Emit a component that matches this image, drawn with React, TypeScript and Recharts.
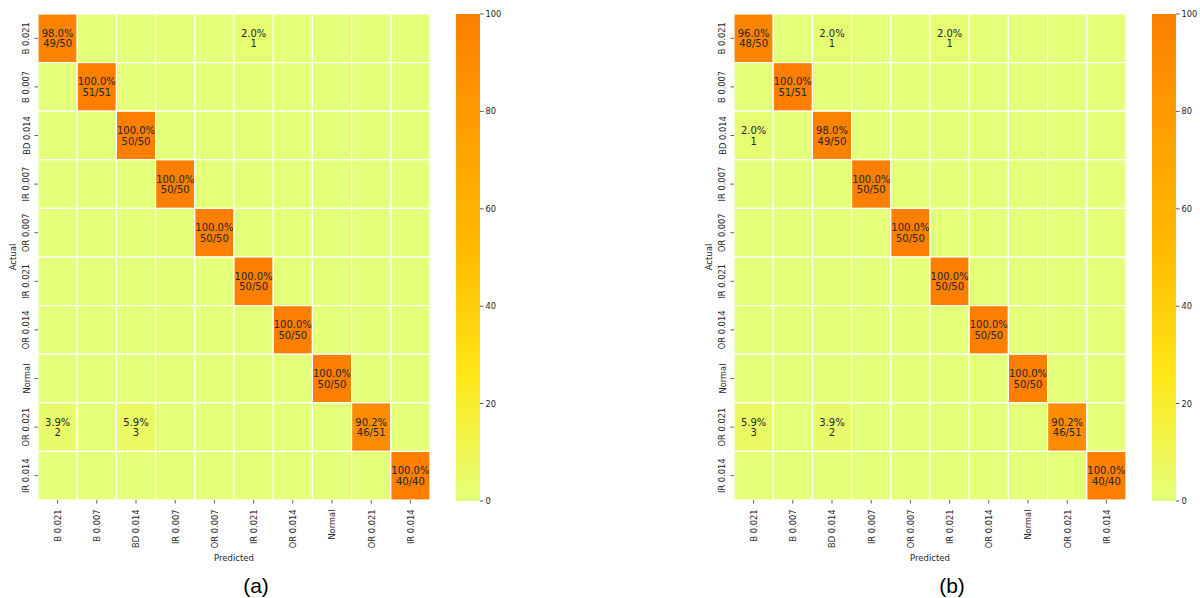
import React from 'react';
import { ScatterChart, Scatter, XAxis, YAxis, BarChart, Bar, Label } from 'recharts';

const CATEGORIES = ['B 0.021', 'B 0.007', 'BD 0.014', 'IR 0.007', 'OR 0.007', 'IR 0.021', 'OR 0.014', 'Normal', 'OR 0.021', 'IR 0.014'];
const ROW_TOTALS = [50, 51, 50, 50, 50, 50, 50, 50, 51, 40];
const COUNTS_A = [
  [49, 0, 0, 0, 0, 1, 0, 0, 0, 0],
  [0, 51, 0, 0, 0, 0, 0, 0, 0, 0],
  [0, 0, 50, 0, 0, 0, 0, 0, 0, 0],
  [0, 0, 0, 50, 0, 0, 0, 0, 0, 0],
  [0, 0, 0, 0, 50, 0, 0, 0, 0, 0],
  [0, 0, 0, 0, 0, 50, 0, 0, 0, 0],
  [0, 0, 0, 0, 0, 0, 50, 0, 0, 0],
  [0, 0, 0, 0, 0, 0, 0, 50, 0, 0],
  [2, 0, 3, 0, 0, 0, 0, 0, 46, 0],
  [0, 0, 0, 0, 0, 0, 0, 0, 0, 40],
];
const COUNTS_B = [
  [48, 0, 1, 0, 0, 1, 0, 0, 0, 0],
  [0, 51, 0, 0, 0, 0, 0, 0, 0, 0],
  [1, 0, 49, 0, 0, 0, 0, 0, 0, 0],
  [0, 0, 0, 50, 0, 0, 0, 0, 0, 0],
  [0, 0, 0, 0, 50, 0, 0, 0, 0, 0],
  [0, 0, 0, 0, 0, 50, 0, 0, 0, 0],
  [0, 0, 0, 0, 0, 0, 50, 0, 0, 0],
  [0, 0, 0, 0, 0, 0, 0, 50, 0, 0],
  [3, 0, 2, 0, 0, 0, 0, 0, 46, 0],
  [0, 0, 0, 0, 0, 0, 0, 0, 0, 40],
];
const COLORBAR_TICKS = [0, 20, 40, 60, 80, 100];
const WISTIA = [
  [228, 255, 122],
  [255, 232, 26],
  [255, 189, 0],
  [255, 160, 0],
  [252, 127, 0],
];

const FONT = '"DejaVu Sans", sans-serif';
const TEXT_COLOR = '#262626';
const N = CATEGORIES.length;
const CHART_W = 440;
const CHART_H = 570;
const MARGIN = { top: 14, right: 10, bottom: 0, left: 0 };
const Y_AXIS_W = 38;
const X_AXIS_H = 70;
const PLOT_W = CHART_W - MARGIN.left - MARGIN.right - Y_AXIS_W;
const PLOT_H = CHART_H - MARGIN.top - MARGIN.bottom - X_AXIS_H;
const CELL_W = PLOT_W / N;
const CELL_H = PLOT_H / N;

function wistia(v: number): string {
  const t = Math.max(0, Math.min(1, v / 100)) * (WISTIA.length - 1);
  const i = Math.min(WISTIA.length - 2, Math.floor(t));
  const f = t - i;
  const c = WISTIA[i].map((a, k) => Math.round(a + (WISTIA[i + 1][k] - a) * f));
  return `rgb(${c[0]},${c[1]},${c[2]})`;
}

function buildCells(counts: number[][]) {
  const cells: any[] = [];
  counts.forEach((row, r) => {
    row.forEach((n, c) => {
      const pct = (n / ROW_TOTALS[r]) * 100;
      cells.push({ x: c, y: r, n, total: ROW_TOTALS[r], pct, diag: r === c });
    });
  });
  return cells;
}

const CellShape = (props: any) => {
  const { cx, cy, payload } = props;
  const fill = wistia(payload.pct);
  const line1 = payload.n > 0 ? `${payload.pct.toFixed(1)}%` : '';
  const line2 = payload.n > 0 ? (payload.diag ? `${payload.n}/${payload.total}` : `${payload.n}`) : '';
  return (
    <g>
      <rect x={cx - CELL_W / 2} y={cy - CELL_H / 2} width={CELL_W} height={CELL_H} fill={fill} stroke="#ffffff" strokeWidth={1.2} />
      {payload.n > 0 && (
        <text x={cx} y={cy} textAnchor="middle" fontFamily={FONT} fontSize={10} fill={TEXT_COLOR}>
          <tspan x={cx} y={cy - 5} dominantBaseline="central">{line1}</tspan>
          <tspan x={cx} y={cy + 5.5} dominantBaseline="central">{line2}</tspan>
        </text>
      )}
    </g>
  );
};

const XTick = (props: any) => {
  const { x, y, payload } = props;
  const tx = x + 3.3;
  return (
    <text x={tx} y={y} transform={`rotate(-90 ${tx} ${y})`} textAnchor="end" fontFamily={FONT} fontSize={8.3} fill={TEXT_COLOR}>
      {CATEGORIES[payload.value]}
    </text>
  );
};

const YTick = (props: any) => {
  const { x, y, payload } = props;
  return (
    <text x={x} y={y} transform={`rotate(-90 ${x} ${y})`} textAnchor="middle" fontFamily={FONT} fontSize={8.3} fill={TEXT_COLOR}>
      {CATEGORIES[payload.value]}
    </text>
  );
};

const INDEX_TICKS = CATEGORIES.map((_, i) => i);

function Matrix({ counts, left, caption, gradId }: { counts: number[][]; left: number; caption: string; gradId: string }) {
  const data = buildCells(counts);
  return (
    <div style={{ position: 'absolute', left, top: 0, width: 520, height: 598 }}>
      <div style={{ position: 'absolute', left: 0, top: 0 }}>
        <ScatterChart width={CHART_W} height={CHART_H} margin={MARGIN}>
          <XAxis
            type="number"
            dataKey="x"
            domain={[-0.5, N - 0.5]}
            ticks={INDEX_TICKS}
            interval={0}
            height={X_AXIS_H}
            axisLine={false}
            tickLine={{ stroke: '#333', strokeWidth: 0.8 }}
            tickSize={3.5}
            tickMargin={6}
            tick={<XTick />}
            allowDataOverflow
          >
            <Label
              content={() => (
                <text x={Y_AXIS_W + PLOT_W / 2} y={558} textAnchor="middle" dominantBaseline="central" fontFamily={FONT} fontSize={8.5} fill={TEXT_COLOR}>
                  Predicted
                </text>
              )}
            />
          </XAxis>
          <YAxis
            type="number"
            dataKey="y"
            reversed
            domain={[-0.5, N - 0.5]}
            ticks={INDEX_TICKS}
            interval={0}
            width={Y_AXIS_W}
            axisLine={false}
            tickLine={{ stroke: '#333', strokeWidth: 0.8 }}
            tickSize={3.5}
            tickMargin={5}
            tick={<YTick />}
            allowDataOverflow
          >
            <Label
              content={() => (
                <text x={13} y={MARGIN.top + PLOT_H / 2} transform={`rotate(-90 13 ${MARGIN.top + PLOT_H / 2})`} textAnchor="middle" dominantBaseline="central" fontFamily={FONT} fontSize={8.5} fill={TEXT_COLOR}>
                  Actual
                </text>
              )}
            />
          </YAxis>
          <Scatter data={data} shape={<CellShape />} isAnimationActive={false} />
        </ScatterChart>
      </div>
      <div style={{ position: 'absolute', left: 456, top: 0 }}>
        <BarChart width={60} height={511} data={[{ name: 'cb', v: 100 }]} margin={{ top: 14, right: 0, bottom: 10, left: 0 }} barCategoryGap={0}>
          <defs>
            <linearGradient id={gradId} x1="0" y1="1" x2="0" y2="0">
              {WISTIA.map((c, i) => (
                <stop key={i} offset={i / (WISTIA.length - 1)} stopColor={`rgb(${c[0]},${c[1]},${c[2]})`} />
              ))}
            </linearGradient>
          </defs>
          <XAxis dataKey="name" hide />
          <YAxis
            orientation="right"
            domain={[0, 100]}
            ticks={COLORBAR_TICKS}
            interval={0}
            width={36}
            axisLine={false}
            tickLine={{ stroke: '#333', strokeWidth: 0.8 }}
            tickSize={3.5}
            tickMargin={2}
            tick={{ fontFamily: FONT, fontSize: 8.3, fill: TEXT_COLOR }}
          />
          <Bar dataKey="v" fill={`url(#${gradId})`} isAnimationActive={false} />
        </BarChart>
      </div>
      <div style={{ position: 'absolute', left: 0, top: 574, width: CHART_W + 28, textAlign: 'center', fontFamily: '"Liberation Sans", Arial, sans-serif', fontSize: 21, color: '#000', lineHeight: '24px' }}>
        <span style={{ position: 'absolute', left: 256 - 15, width: 30, textAlign: 'center' }}>{caption}</span>
      </div>
    </div>
  );
}

export default function App() {
  return (
    <div style={{ position: 'absolute', left: 0, top: 0, width: 1200, height: 598, background: '#ffffff', overflow: 'hidden' }}>
      <Matrix counts={COUNTS_A} left={0} caption="(a)" gradId="wistiaA" />
      <Matrix counts={COUNTS_B} left={696} caption="(b)" gradId="wistiaB" />
    </div>
  );
}
